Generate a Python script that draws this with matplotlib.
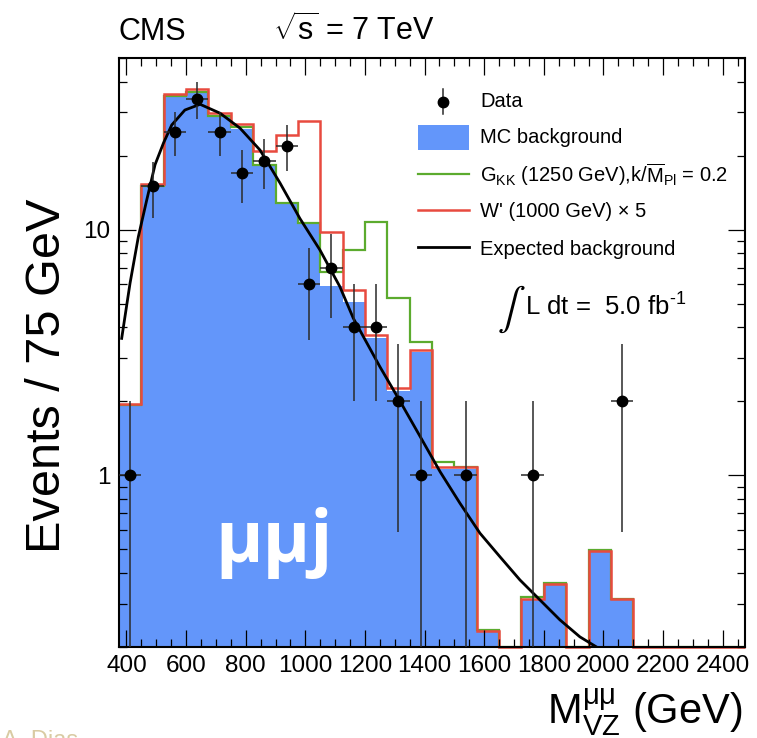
import numpy as np
import matplotlib
matplotlib.use("Agg")
import matplotlib.pyplot as plt
from matplotlib.ticker import MultipleLocator, LogLocator, NullFormatter
from matplotlib.patches import Rectangle
from matplotlib.lines import Line2D

plt.rcParams['font.family'] = ['Liberation Sans', 'DejaVu Sans']
plt.rcParams['mathtext.fontset'] = 'custom'
plt.rcParams['mathtext.rm'] = 'Liberation Sans'
plt.rcParams['mathtext.it'] = 'Liberation Sans:italic'
plt.rcParams['mathtext.bf'] = 'Liberation Sans:bold'

# ---------------- data ----------------
bin_lo = 375.0
bin_width = 75.0
n_bins = 28
edges = bin_lo + bin_width * np.arange(n_bins + 1)
centers = 0.5 * (edges[:-1] + edges[1:])

mc_background = [1.93, 15.1, 34.9, 36.4, 29.0, 25.7, 18.3, 12.9, 10.5, 5.9,
                 5.1, 3.62, 2.2, 3.18, 1.06, 1.06, 0.23, 0.0, 0.31, 0.36,
                 0.0, 0.49, 0.31, 0.0, 0.0, 0.0, 0.0, 0.0]
gkk_plus_bkg = [1.93, 15.1, 34.9, 36.4, 29.0, 26.1, 18.4, 12.9, 10.6, 6.7,
                8.27, 10.7, 5.29, 3.50, 1.13, 1.08, 0.235, 0.0, 0.32, 0.365,
                0.0, 0.495, 0.315, 0.0, 0.0, 0.0, 0.0, 0.0]
wprime_plus_bkg = [1.95, 15.3, 35.7, 37.3, 29.8, 27.0, 21.0, 24.2, 27.8, 9.75,
                   5.7, 3.73, 2.26, 3.24, 1.08, 1.08, 0.232, 0.0, 0.313, 0.361,
                   0.0, 0.493, 0.313, 0.0, 0.0, 0.0, 0.0, 0.0]
data_counts = [1, 15, 25, 34, 25, 17, 19, 22, 6, 7, 4, 4, 2, 1, 0, 1, 0, 0,
               1, 0, 0, 0, 2, 0, 0, 0, 0, 0]

fit_mass = [384, 412, 440, 468, 496, 524, 552, 596, 647, 714, 781, 848, 915,
            982, 1049, 1116, 1161, 1250, 1318, 1385, 1452, 1519, 1586, 1653,
            1720, 1787, 1854, 1921, 1977]
fit_events = [3.61, 6.05, 9.37, 13.2, 18.4, 22.5, 26.7, 30.7, 32.4, 29.8,
              25.9, 21.1, 15.5, 11.1, 8.27, 5.86, 4.36, 2.77, 2.0, 1.44,
              1.035, 0.769, 0.581, 0.466, 0.375, 0.311, 0.258, 0.220, 0.200]

x_ticks = [400, 600, 800, 1000, 1200, 1400, 1600, 1800, 2000, 2200, 2400]
y_ticks = [1, 10]
y_ticklabels = ['1', '10']

ymin, ymax = 0.2, 50.0

# ---------------- figure ----------------
fig = plt.figure(figsize=(7.57, 7.38), dpi=100)
W, H = 757.0, 738.0
ax_l, ax_r, ax_t, ax_b = 119.0, 745.0, 58.0, 647.0
ax = fig.add_axes([ax_l / W, 1 - ax_b / H, (ax_r - ax_l) / W, (ax_b - ax_t) / H])

blue = '#6396fa'
red = '#e84a3f'
green = '#5cab2e'

mc = np.array(mc_background)
gk = np.array(gkk_plus_bkg)
wp = np.array(wprime_plus_bkg)

ax.stairs(mc, edges, fill=True, color=blue, baseline=1e-3, zorder=1, lw=0)
ax.stairs(np.clip(gk, ymin, None), edges, baseline=None, color=green, lw=1.6,
          zorder=1.2, clip_on=False)
ax.stairs(np.clip(wp, ymin, None), edges, baseline=None, color=red, lw=1.8,
          zorder=1.3, clip_on=False)

ax.plot(fit_mass, fit_events, color='black', lw=2.0, zorder=2.5)

dc = np.array(data_counts, dtype=float)
nz = dc > 0
err = np.sqrt(dc[nz])
lower = np.minimum(err, dc[nz] - 1e-4)
ax.errorbar(centers[nz], dc[nz], yerr=[lower, err], xerr=bin_width / 2,
            fmt='o', color='black', ecolor='#2a2a2a', elinewidth=1.1,
            markersize=7.5, capsize=0, zorder=3)

ax.set_yscale('log')
ax.set_xlim(edges[0], edges[-1])
ax.set_ylim(ymin, ymax)

ax.xaxis.set_minor_locator(MultipleLocator(50))
ax.set_xticks(x_ticks)
ax.set_xticklabels([str(t) for t in x_ticks])
ax.set_yticks(y_ticks)
ax.set_yticklabels(y_ticklabels)
ax.yaxis.set_minor_locator(LogLocator(base=10, subs=np.arange(2, 10)))
ax.yaxis.set_minor_formatter(NullFormatter())

ax.tick_params(which='both', direction='in', top=True, right=True,
               labelsize=17.5, width=0.9, color='black')
ax.tick_params(which='major', length=12.5)
ax.tick_params(which='minor', length=6)
ax.tick_params(axis='x', pad=6)
ax.tick_params(axis='y', pad=6)
for s in ax.spines.values():
    s.set_linewidth(1.5)

ax.set_ylabel('Events / 75 GeV', fontsize=35, ha='center', va='center')
ax.yaxis.set_label_coords((48 - ax_l) / (ax_r - ax_l), (ax_b - 376) / (ax_b - ax_t))
ax.set_xlabel(r'$\mathrm{M}^{\mathrm{μμ}}_{\mathrm{VZ}}$ (GeV)', fontsize=30,
              ha='right', va='baseline')
ax.xaxis.set_label_coords((742 - ax_l) / (ax_r - ax_l), (ax_b - 724) / (ax_b - ax_t))

# ---------------- legend (manual, axes fraction) ----------------
def fx(X):
    return (X - ax_l) / (ax_r - ax_l)

def fy(Y):
    return (ax_b - Y) / (ax_b - ax_t)

tr = ax.transAxes
leg_fs = 14.5
ax.add_line(Line2D([fx(443), fx(443)], [fy(89), fy(114)], color='#2a2a2a',
                   lw=1.1, transform=tr, zorder=4))
ax.add_line(Line2D([fx(443)], [fy(101.7)], marker='o', color='black',
                   markersize=7.5, transform=tr, zorder=4))
ax.add_patch(Rectangle((fx(418), fy(150)), fx(469) - fx(418), fy(125) - fy(150),
                       transform=tr, facecolor=blue, edgecolor='none', zorder=4))
ax.add_line(Line2D([fx(418), fx(469)], [fy(174), fy(174)], color=green, lw=1.6,
                   transform=tr, zorder=4))
ax.add_line(Line2D([fx(418), fx(469)], [fy(210), fy(210)], color=red, lw=1.8,
                   transform=tr, zorder=4))
ax.add_line(Line2D([fx(418), fx(469)], [fy(246.7), fy(246.7)], color='black',
                   lw=2.0, transform=tr, zorder=4))
tx = fx(480)
ax.text(tx, fy(107.3), 'Data', transform=tr, fontsize=leg_fs, va='baseline')
ax.text(tx, fy(143.3), 'MC background', transform=tr, fontsize=leg_fs, va='baseline')
ax.text(tx, fy(181.7),
        r'$\mathrm{G}_{\mathrm{KK}}$ (1250 GeV),k/$\overline{\mathrm{M}}_{\mathrm{Pl}}$ = 0.2',
        transform=tr, fontsize=leg_fs, va='baseline')
ax.text(tx, fy(216.7), "W' (1000 GeV) × 5", transform=tr, fontsize=leg_fs,
        va='baseline')
ax.text(tx, fy(255), 'Expected background', transform=tr, fontsize=leg_fs,
        va='baseline')

# luminosity
ax.text(fx(497), fy(309), r'$\int$', transform=tr, fontsize=30,
        math_fontfamily='stix', va='center', ha='left')
ax.text(fx(525), fy(316), r'L dt =  5.0 fb$^{\text{-1}}$', transform=tr,
        fontsize=18.5, va='baseline')

# channel tag
ax.text(fx(215), fy(561.7), 'μμj', transform=tr, fontsize=52, color='white',
        family='Open Sans', fontweight='bold', va='baseline', zorder=5)

# header
fig.text(118 / W, 1 - 40 / H, 'CMS', fontsize=22, va='baseline', ha='left')
fig.text(273 / W, 1 - 40 / H, r'$\sqrt{\mathrm{s}}$ = 7 TeV', fontsize=22,
         va='baseline', ha='left')

# faint author credit (cut by the lower edge, as in the source image)
fig.text(0.002, 1 - 730 / H, 'A. Dias', fontsize=17, color='#d9cba3',
         va='top', ha='left')

fig.savefig('out.png', dpi=100)
